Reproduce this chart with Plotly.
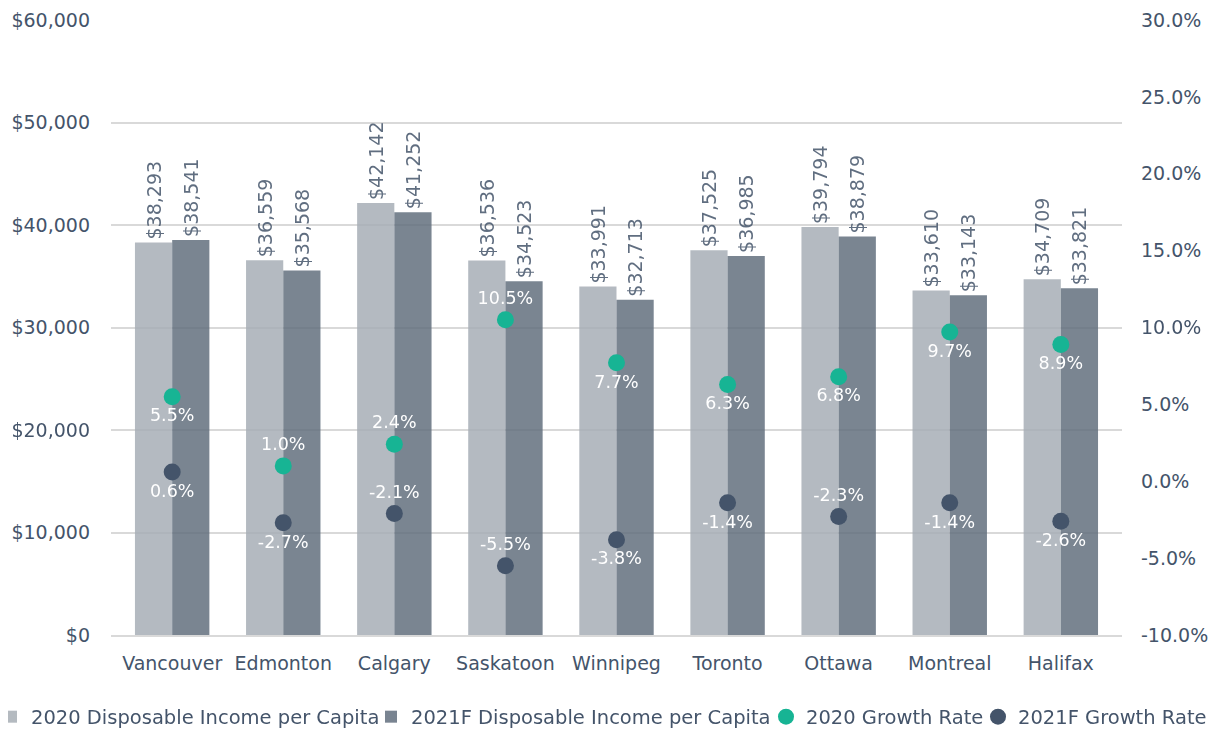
import plotly.graph_objects as go

cities = ["Vancouver", "Edmonton", "Calgary", "Saskatoon", "Winnipeg",
          "Toronto", "Ottawa", "Montreal", "Halifax"]
income_2020 = [38293, 36559, 42142, 36536, 33991, 37525, 39794, 33610, 34709]
income_2021 = [38541, 35568, 41252, 34523, 32713, 36985, 38879, 33143, 33821]
growth_2020 = [0.055, 0.010, 0.024, 0.105, 0.077, 0.063, 0.068, 0.097, 0.089]
growth_2021 = [0.006, -0.027, -0.021, -0.055, -0.038, -0.014, -0.023, -0.014, -0.026]
pos_2020 = ["bottom center", "top center", "top center", "top center", "bottom center",
            "bottom center", "bottom center", "bottom center", "bottom center"]
pos_2021 = ["bottom center", "bottom center", "top center", "top center", "bottom center",
            "bottom center", "top center", "bottom center", "bottom center"]
left_tickvals = [0, 10000, 20000, 30000, 40000, 50000, 60000]
left_ticktext = ["$0", "$10,000", "$20,000", "$30,000", "$40,000", "$50,000", "$60,000"]
right_tickvals = [-0.10, -0.05, 0.0, 0.05, 0.10, 0.15, 0.20, 0.25, 0.30]
right_ticktext = ["-10.0%", "-5.0%", "0.0%", "5.0%", "10.0%", "15.0%", "20.0%", "25.0%", "30.0%"]


def pct(v):
    s = f"{abs(v) * 100:.1f}%"
    return "-" + s if v < 0 else s


TXT = "#44546a"
FONT = "DejaVu Sans"

fig = go.Figure()
fig.add_trace(go.Bar(
    x=cities, y=income_2020, name="2020 Disposable Income per Capita", legend="legend",
    marker=dict(color="#a7aeb6", line=dict(width=0)), opacity=0.85,
    text=[f"${v:,}" for v in income_2020], textposition="outside", textangle=-90,
    constraintext="none",
    textfont=dict(color=TXT, size=19, family=FONT), cliponaxis=False,
))
fig.add_trace(go.Bar(
    x=cities, y=income_2021, name="2021F Disposable Income per Capita", legend="legend2",
    marker=dict(color="#626f7e", line=dict(width=0)), opacity=0.85,
    text=[f"${v:,}" for v in income_2021], textposition="outside", textangle=-90,
    constraintext="none",
    textfont=dict(color=TXT, size=19, family=FONT), cliponaxis=False,
))
fig.add_trace(go.Scatter(
    x=cities, y=growth_2020, name="2020 Growth Rate", yaxis="y2", mode="markers+text",
    legend="legend3",
    marker=dict(color="#17b494", size=17),
    text=[pct(v) for v in growth_2020], textposition=pos_2020,
    textfont=dict(color="white", size=17.5, family=FONT), cliponaxis=False,
))
fig.add_trace(go.Scatter(
    x=cities, y=growth_2021, name="2021F Growth Rate", yaxis="y2", mode="markers+text",
    legend="legend4",
    marker=dict(color="#44546a", size=17),
    text=[pct(v) for v in growth_2021], textposition=pos_2021,
    textfont=dict(color="white", size=17.5, family=FONT), cliponaxis=False,
))

W, H = 1223, 730
ML, MR, MT, MB = 103, 109, 12, 103
PW = W - ML - MR


def leg(text_left_px):
    return dict(orientation="h", xref="paper", yref="container",
                x=(text_left_px - 40 - ML) / PW, xanchor="left",
                y=1 - 709 / H, yanchor="middle",
                font=dict(size=19.5, color=TXT), itemwidth=30,
                bgcolor="rgba(0,0,0,0)")


fig.update_layout(
    width=W, height=H,
    margin=dict(l=ML, r=MR, t=MT, b=MB, autoexpand=False),
    paper_bgcolor="white", plot_bgcolor="white",
    font=dict(family=FONT, size=19, color=TXT),
    barmode="group", bargap=0.33, bargroupgap=0,
    showlegend=True,
    legend=leg(23), legend2=leg(403), legend3=leg(798), legend4=leg(1010),
    xaxis=dict(showgrid=False, showline=True, linecolor="#d9d9d9", linewidth=1.5,
               ticks="", ticklabelstandoff=10, automargin=False,
               tickfont=dict(size=19, color=TXT)),
    yaxis=dict(range=[0, 60000], tickvals=left_tickvals, ticktext=left_ticktext,
               showgrid=True, gridcolor="#d9d9d9", gridwidth=1.5, zeroline=False,
               ticks="", ticklabelstandoff=20, automargin=False,
               tickfont=dict(size=19, color=TXT)),
    yaxis2=dict(range=[-0.10, 0.30], tickvals=right_tickvals, ticktext=right_ticktext,
                overlaying="y", side="right", showgrid=False, zeroline=False,
                ticks="", ticklabelstandoff=18, automargin=False,
                tickfont=dict(size=19, color=TXT)),
)

fig.write_html("out.html")
